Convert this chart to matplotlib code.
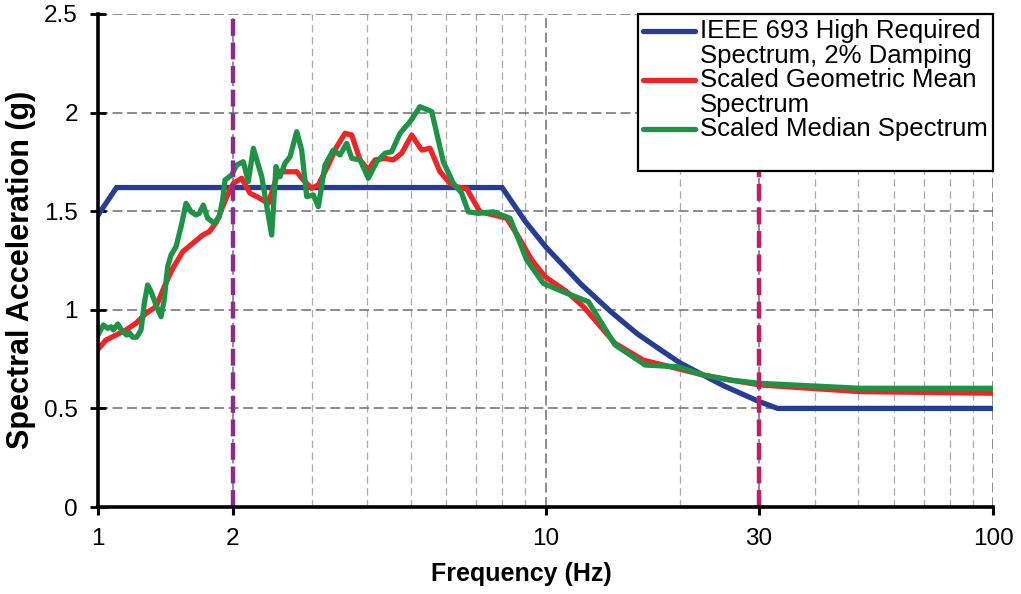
import numpy as np
import matplotlib
matplotlib.use("Agg")
import matplotlib.pyplot as plt
from matplotlib.legend_handler import HandlerLine2D
from matplotlib.lines import Line2D
from matplotlib.ticker import FixedLocator, NullFormatter

plt.rcParams['font.family'] = ['Liberation Sans', 'DejaVu Sans']

# ---------------- data ----------------
ieee_freq = [1.0, 1.1, 8.0, 9.0, 10.0, 12.0, 14.0, 16.0, 18.0, 20.0, 25.0, 30.0, 33.0, 100.0]
ieee_sa = [1.48, 1.62, 1.62, 1.45, 1.32, 1.13, 0.99, 0.88, 0.80, 0.73, 0.615, 0.535, 0.50, 0.50]

geo_freq = [1.0, 1.042, 1.097, 1.155, 1.216, 1.280, 1.348, 1.406, 1.469, 1.547, 1.628, 1.714,
            1.773, 1.842, 1.940, 2.006, 2.095, 2.186, 2.263, 2.403, 2.529, 2.662, 2.780, 2.876,
            3.003, 3.107, 3.271, 3.415, 3.565, 3.690, 3.851, 4.018, 4.159, 4.379, 4.570, 4.771,
            5.024, 5.289, 5.520, 5.810, 6.117, 6.332, 6.666, 7.138, 7.645, 8.192, 8.694, 9.316,
            9.974, 11.15, 12.15, 14.30, 16.54, 19.64, 22.52, 25.84, 30.15, 50.44, 100.0]
geo_sa = [0.80, 0.847, 0.872, 0.898, 0.932, 0.982, 1.016, 1.117, 1.210, 1.295, 1.337, 1.379,
          1.396, 1.447, 1.574, 1.641, 1.667, 1.591, 1.574, 1.540, 1.700, 1.700, 1.700, 1.658,
          1.616, 1.633, 1.734, 1.827, 1.895, 1.886, 1.760, 1.709, 1.760, 1.768, 1.760, 1.794,
          1.886, 1.810, 1.819, 1.700, 1.642, 1.624, 1.613, 1.497, 1.481, 1.464, 1.371, 1.253,
          1.168, 1.092, 1.016, 0.830, 0.745, 0.703, 0.669, 0.644, 0.619, 0.585, 0.577]

med_freq = [1.0, 1.028, 1.051, 1.069, 1.082, 1.107, 1.136, 1.159, 1.175, 1.195, 1.220, 1.248,
            1.269, 1.291, 1.314, 1.348, 1.383, 1.406, 1.431, 1.456, 1.494, 1.533, 1.573, 1.614,
            1.656, 1.684, 1.719, 1.758, 1.819, 1.866, 1.899, 1.922, 1.990, 2.041, 2.112, 2.167,
            2.224, 2.322, 2.444, 2.499, 2.551, 2.617, 2.686, 2.780, 2.852, 2.927, 3.028, 3.107,
            3.216, 3.356, 3.474, 3.596, 3.690, 3.851, 4.018, 4.196, 4.379, 4.532, 4.730, 4.980,
            5.243, 5.569, 5.909, 6.222, 6.497, 6.721, 7.076, 7.645, 8.332, 9.078, 9.887, 11.15,
            12.47, 14.30, 16.69, 19.81, 22.52, 25.84, 30.15, 50.44, 100.0]
med_sa = [0.872, 0.923, 0.906, 0.914, 0.898, 0.928, 0.889, 0.872, 0.884, 0.861, 0.861, 0.898,
          1.033, 1.126, 1.092, 1.024, 0.965, 1.050, 1.219, 1.278, 1.320, 1.421, 1.540, 1.497,
          1.481, 1.489, 1.531, 1.464, 1.439, 1.472, 1.557, 1.658, 1.684, 1.734, 1.751, 1.650,
          1.819, 1.675, 1.379, 1.726, 1.675, 1.743, 1.776, 1.903, 1.810, 1.574, 1.582, 1.523,
          1.734, 1.810, 1.785, 1.844, 1.768, 1.760, 1.667, 1.751, 1.794, 1.802, 1.895, 1.954,
          2.030, 2.005, 1.751, 1.642, 1.591, 1.497, 1.489, 1.497, 1.464, 1.253, 1.134, 1.084,
          1.041, 0.822, 0.720, 0.711, 0.669, 0.644, 0.627, 0.602, 0.602]

vline_freqs = [2, 30]
x_ticks = [1, 2, 10, 30, 100]
x_ticklabels = ['1', '2', '10', '30', '100']
y_ticks = [0, 0.5, 1, 1.5, 2, 2.5]
y_ticklabels = ['0', '0.5', '1', '1.5', '2', '2.5']
labels = ['IEEE 693 High Required\nSpectrum, 2% Damping',
          'Scaled Geometric Mean\nSpectrum',
          'Scaled Median Spectrum\n ']

# ---------------- figure ----------------
fig = plt.figure(figsize=(10.21, 5.94), dpi=100)
ax = fig.add_axes([98 / 1021, 87 / 594, 895 / 1021, 493 / 594])

blue = '#263D96'
red = '#EE2427'
green = '#1E9345'

l1, = ax.plot(ieee_freq, ieee_sa, color=blue, lw=3.8, zorder=3, solid_joinstyle='miter')
l2, = ax.plot(geo_freq, geo_sa, color=red, lw=3.8, zorder=4)
l3, = ax.plot(med_freq, med_sa, color=green, lw=3.8, zorder=5)

ax.axvline(vline_freqs[0], color='#8E2B8E', lw=3.2, linestyle=(0, (3.8, 1.5)), zorder=6)
ax.axvline(vline_freqs[1], color='#C41C60', lw=3.2, linestyle=(0, (3.8, 1.5)), zorder=6)

ax.set_xscale('log')
ax.set_xlim(1, 100)
ax.set_ylim(0, 2.5)

ax.xaxis.set_major_locator(FixedLocator(x_ticks))
ax.set_xticklabels(x_ticklabels)
minor = [3, 4, 5, 6, 7, 8, 9, 20, 40, 50, 60, 70, 80, 90]
ax.xaxis.set_minor_locator(FixedLocator(minor))
ax.xaxis.set_minor_formatter(NullFormatter())
ax.set_yticks(y_ticks)
ax.set_yticklabels(y_ticklabels)

ax.grid(True, which='major', axis='y', color='#6E6E6E', lw=1.1, linestyle=(0, (6.5, 3)))
ax.grid(True, which='major', axis='x', color='#6E6E6E', lw=1.1, linestyle=(0, (6.5, 3)))
ax.grid(True, which='minor', axis='x', color='#ABABAB', lw=0.9, linestyle=(0, (6, 3.5)))

for s in ['top', 'right']:
    ax.spines[s].set_visible(False)
for s in ['left', 'bottom']:
    ax.spines[s].set_linewidth(2.6)
    ax.spines[s].set_zorder(7)

ax.tick_params(axis='x', which='major', direction='out', length=6, width=2.2,
               labelsize=17.5, pad=9)
ax.tick_params(axis='x', which='minor', length=0)
ax.tick_params(axis='y', which='major', direction='inout', length=11, width=2.0,
               labelsize=17.5, pad=9)

ax.set_xlabel('Frequency (Hz)', fontsize=18, fontweight='bold')
ax.xaxis.set_label_coords((521 - 98) / 895, -0.111)
ax.set_ylabel('Spectral Acceleration (g)', fontsize=22, fontweight='bold')
ax.yaxis.set_label_coords(-0.069, (507 - 270) / 493)

LEG_FS = 18.5
LEG_LS = 1.05


class FirstLineHandler(HandlerLine2D):
    def __init__(self, nlines, **kw):
        super().__init__(**kw)
        self.nlines = nlines

    def create_artists(self, legend, orig_handle, xdescent, ydescent, width, height,
                       fontsize, trans):
        arts = super().create_artists(legend, orig_handle, xdescent, ydescent, width,
                                      height, fontsize, trans)
        shift = 0.5 * LEG_LS * (self.nlines - 1) * fontsize
        for a in arts:
            if isinstance(a, Line2D):
                a.set_ydata(np.asarray(a.get_ydata(), dtype=float) + shift)
                a.set_solid_capstyle('round')
        return arts


leg = ax.legend([l1, l2, l3], labels, loc='upper right', bbox_to_anchor=(1.0, 1.0),
                borderaxespad=0.0, fontsize=LEG_FS, frameon=True, fancybox=False,
                framealpha=1, edgecolor='black', handlelength=2.0, handletextpad=0.2,
                labelspacing=0.0, borderpad=0.2,
                handler_map={l1: FirstLineHandler(2), l2: FirstLineHandler(2),
                             l3: FirstLineHandler(2)})
for t in leg.get_texts():
    t.set_linespacing(LEG_LS)
leg.get_frame().set_linewidth(1.6)
leg.set_zorder(10)

fig.savefig('out.png', dpi=100)
